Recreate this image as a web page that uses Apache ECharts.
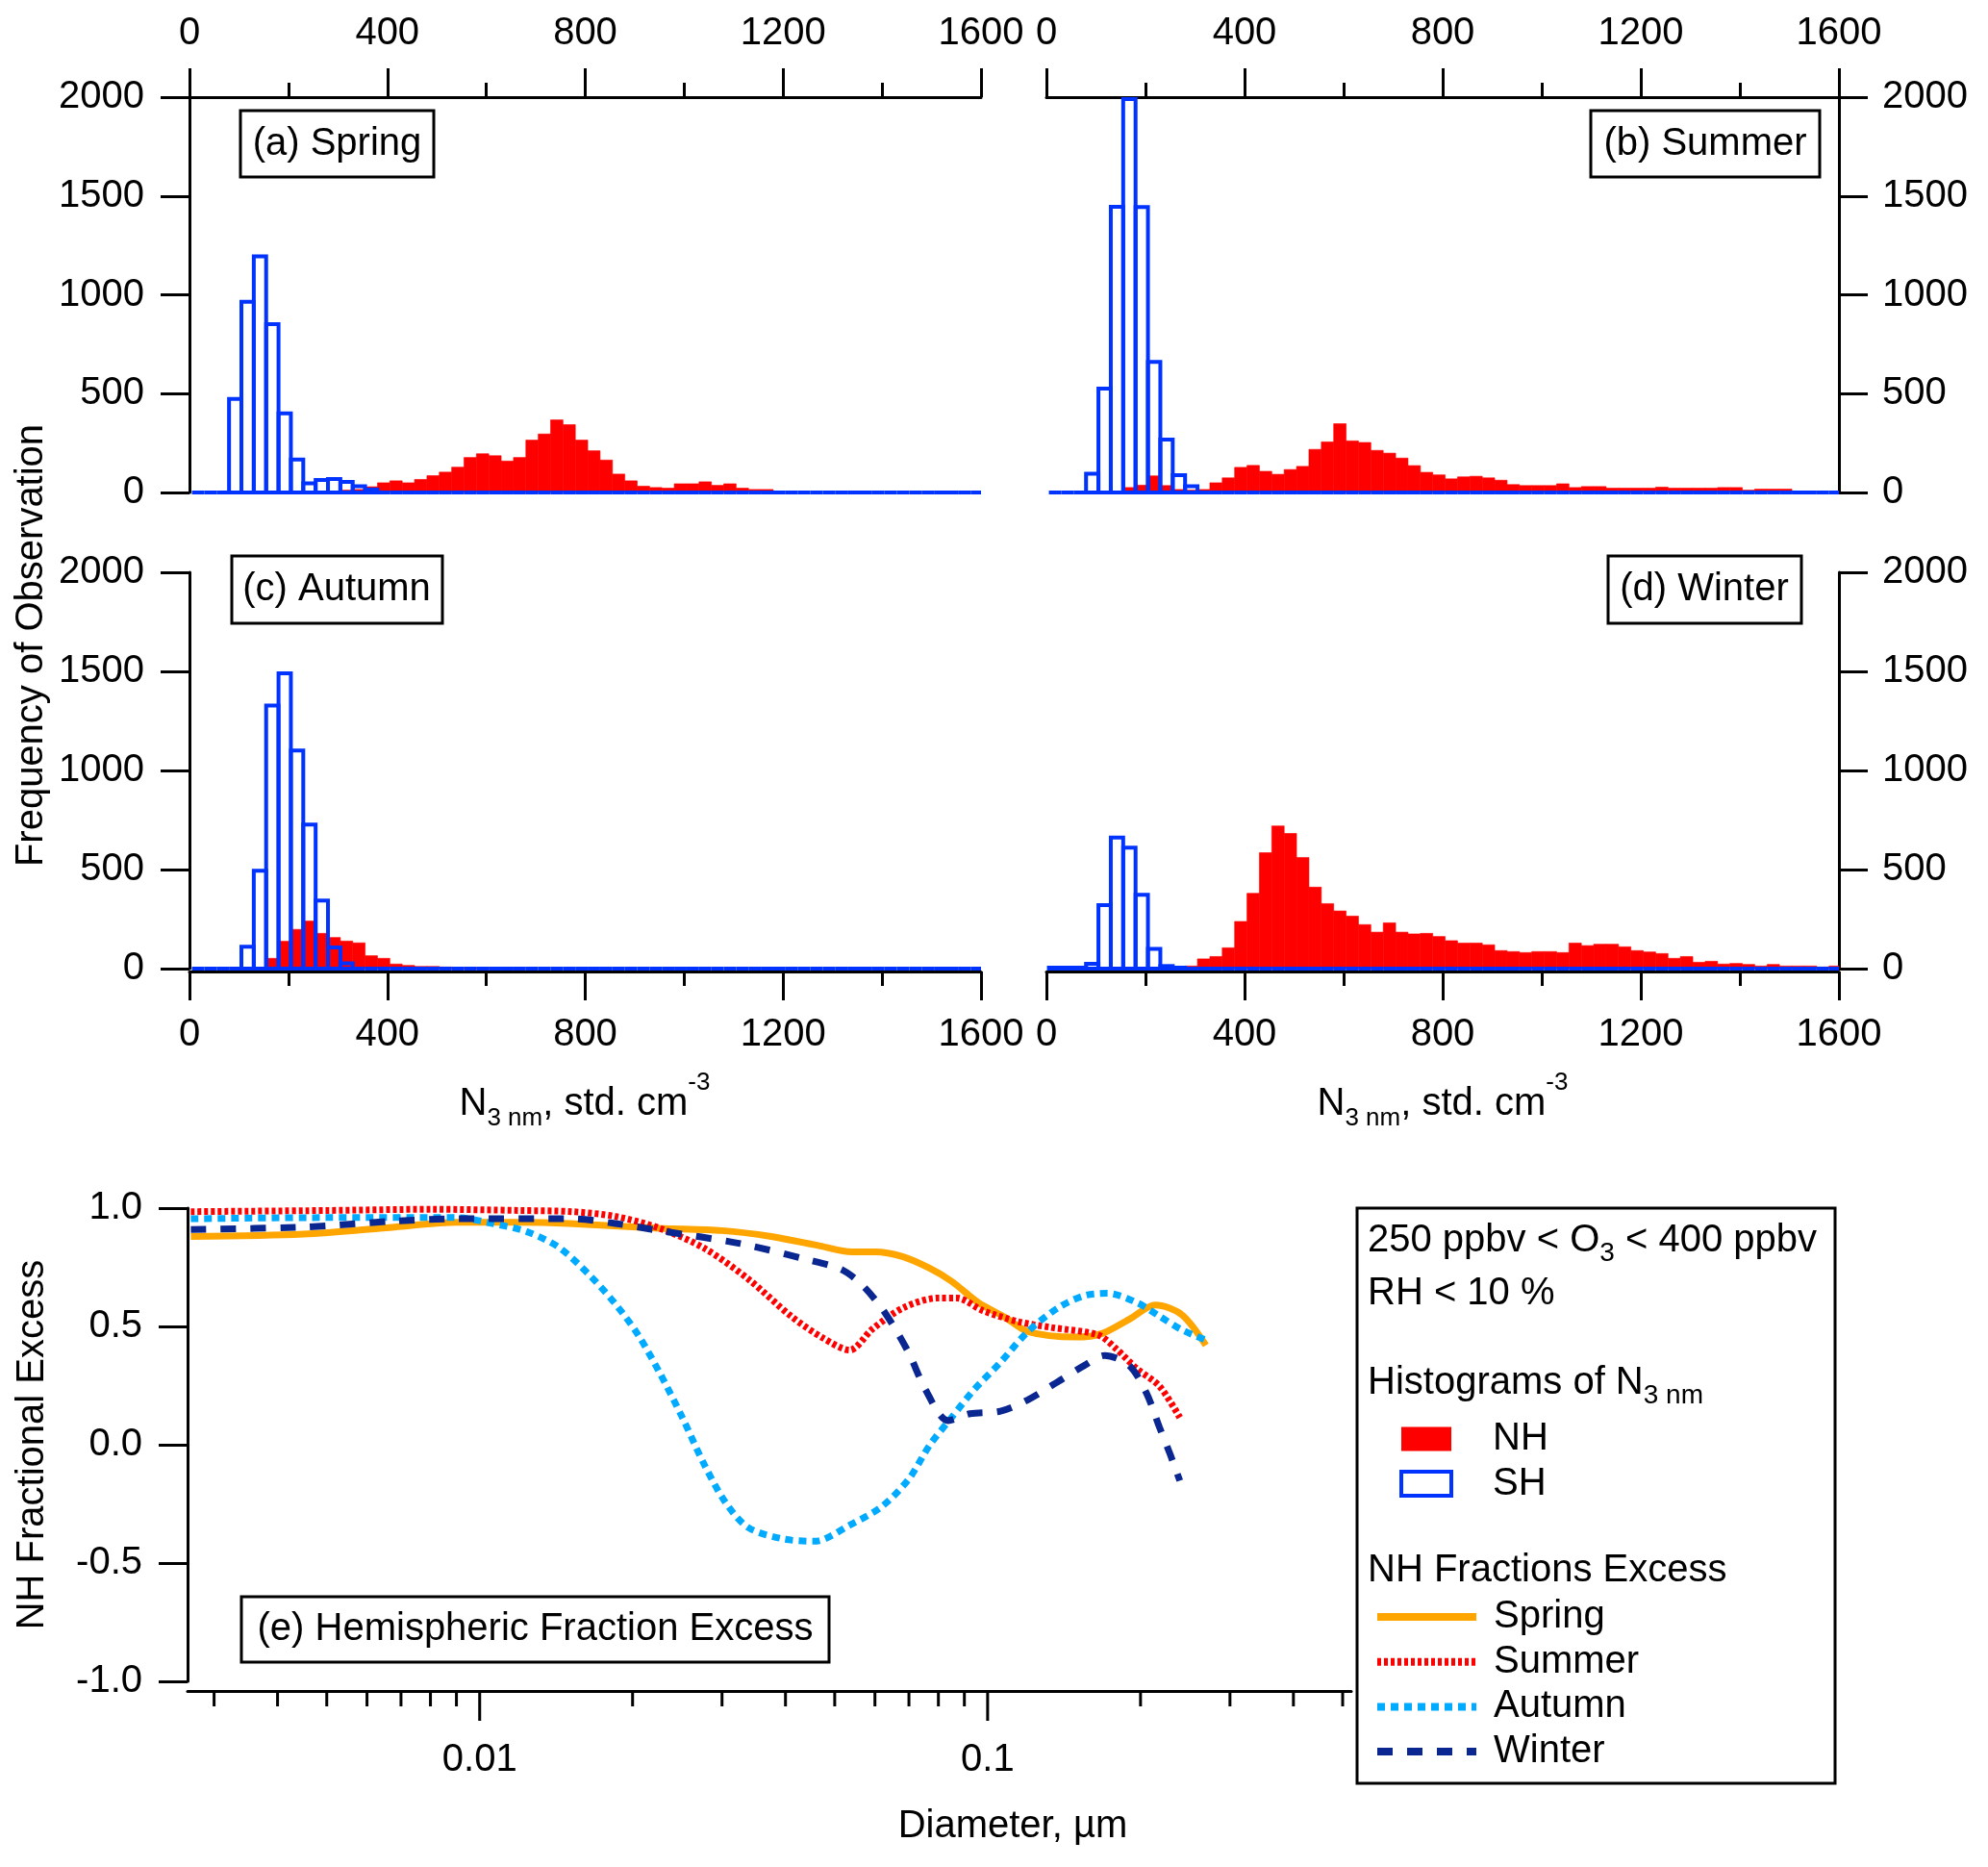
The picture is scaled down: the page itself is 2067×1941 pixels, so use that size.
<!DOCTYPE html>
<html>
<head>
<meta charset="utf-8">
<script src="https://cdn.jsdelivr.net/npm/echarts@6/dist/echarts.min.js"></script>
<style>
html,body{margin:0;padding:0;background:#ffffff;}
#chart{width:2067px;height:1941px;}
</style>
</head>
<body>
<div id="chart"></div>
<script>
// ---------------- data ----------------
const BIN_START = 5;      // left edge of first histogram bin (std. cm-3)
const BIN_WIDTH = 25;     // histogram bin width (std. cm-3)
const X_MAX = 1600;

// Histogram counts per bin (64 bins each), NH = filled red, SH = blue outline
const springNH = [0,0,0,0,0,0,0,0,0,0,0,0,12,15,29,49,59,49,66,85,103,128,177,196,186,159,177,265,296,367,343,265,211,164,93,59,32,25,22,44,44,54,36,44,22,15,15,0,0,0,0,0,0,0,0,0,0,0,0,0,0,0,0,0];
const springSH = [0,0,0,473,965,1195,852,400,167,46,63,68,54,32,15,0,0,0,0,0,0,0,0,0,0,0,0,0,0,0,0,0,0,0,0,0,0,0,0,0,0,0,0,0,0,0,0,0,0,0,0,0,0,0,0,0,0,0,0,0,0,0,0,0];
const summerNH = [0,0,0,0,0,0,25,37,84,35,15,12,15,49,74,127,137,107,92,116,132,218,256,348,261,253,213,199,174,136,102,89,69,79,82,74,62,40,35,35,35,44,25,30,30,22,22,22,22,27,22,22,22,22,25,25,12,17,17,17,5,5,0,0];
const summerSH = [0,0,0,95,526,1445,1990,1444,660,268,87,32,0,0,0,0,0,0,0,0,0,0,0,0,0,0,0,0,0,0,0,0,0,0,0,0,0,0,0,0,0,0,0,0,0,0,0,0,0,0,0,0,0,0,0,0,0,0,0,0,0,0,0,0];
const autumnNH = [0,0,0,0,0,0,52,138,198,240,178,157,139,130,65,52,23,16,11,11,8,5,5,4,4,3,0,0,0,0,0,0,0,0,0,0,0,0,0,0,0,0,0,0,0,0,0,0,0,0,0,0,0,0,0,0,0,0,0,0,0,0,0,0];
const autumnSH = [0,0,0,0,110,494,1328,1490,1101,727,343,107,27,0,0,0,0,0,0,0,0,0,0,0,0,0,0,0,0,0,0,0,0,0,0,0,0,0,0,0,0,0,0,0,0,0,0,0,0,0,0,0,0,0,0,0,0,0,0,0,0,0,0,0];
const winterNH = [0,0,0,0,0,0,0,0,0,0,8,13,49,61,105,238,380,585,720,682,561,411,328,291,265,222,184,231,184,175,178,162,141,129,129,120,91,86,81,86,86,81,129,116,123,123,110,91,84,76,52,61,32,37,23,26,21,13,21,13,13,13,8,13];
const winterSH = [5,5,5,24,320,661,610,372,100,13,5,0,0,0,0,0,0,0,0,0,0,0,0,0,0,0,0,0,0,0,0,0,0,0,0,0,0,0,0,0,0,0,0,0,0,0,0,0,0,0,0,0,0,0,0,0,0,0,0,0,0,0,0,0];

const histTicksX = [0, 400, 800, 1200, 1600];
const histTicksY = [0, 500, 1000, 1500, 2000];

// NH fractional excess vs diameter (um)
const diamSpring = [0.0027,0.0045,0.0068,0.009,0.012,0.015,0.0226,0.03,0.0375,0.0468,0.054,0.06,0.068,0.077,0.085,0.096,0.108,0.12,0.149,0.168,0.19,0.214,0.241,0.269];
const fracSpring = [0.88,0.89,0.92,0.94,0.94,0.935,0.915,0.905,0.88,0.84,0.815,0.815,0.795,0.745,0.69,0.60,0.54,0.478,0.455,0.47,0.53,0.59,0.55,0.42];
const diamSummer = [0.0027,0.005,0.008,0.012,0.0152,0.0185,0.0226,0.0277,0.0338,0.0412,0.0475,0.0535,0.0594,0.0684,0.080,0.087,0.098,0.115,0.133,0.165,0.179,0.197,0.218,0.239];
const fracSummer = [0.985,0.99,0.995,0.99,0.985,0.965,0.915,0.83,0.70,0.54,0.45,0.40,0.49,0.58,0.62,0.62,0.566,0.52,0.496,0.464,0.406,0.32,0.247,0.115];
const diamAutumn = [0.0027,0.005,0.009,0.0106,0.0124,0.0143,0.0164,0.0185,0.0205,0.0226,0.025,0.0277,0.0305,0.0338,0.0396,0.0456,0.0535,0.062,0.070,0.077,0.085,0.094,0.106,0.12,0.138,0.155,0.172,0.197,0.218,0.241,0.269];
const fracAutumn = [0.955,0.96,0.96,0.935,0.90,0.835,0.72,0.595,0.465,0.305,0.12,-0.085,-0.245,-0.35,-0.398,-0.408,-0.34,-0.26,-0.144,0.0,0.116,0.232,0.348,0.478,0.58,0.63,0.64,0.60,0.543,0.486,0.442];
const diamWinter = [0.0027,0.0045,0.0068,0.009,0.0152,0.0185,0.0226,0.0326,0.044,0.0516,0.0571,0.0631,0.0698,0.0755,0.0836,0.0923,0.106,0.12,0.138,0.155,0.170,0.19,0.2056,0.218,0.229,0.239];
const fracWinter = [0.91,0.92,0.945,0.955,0.955,0.935,0.905,0.85,0.783,0.74,0.667,0.551,0.392,0.232,0.102,0.131,0.142,0.19,0.268,0.335,0.377,0.335,0.217,0.073,-0.043,-0.152];

const diamMinorTicks = [0.003,0.004,0.005,0.006,0.007,0.008,0.009,0.02,0.03,0.04,0.05,0.06,0.07,0.08,0.09,0.2,0.3,0.4,0.5];
const diamMajorTicks = [0.01, 0.1];

// ---------------- styles ----------------
const FONT = '"Liberation Sans", Arial, Helvetica, sans-serif';
const RED = '#ff0000';
const BLUE = '#0033ff';
const ORANGE = '#ffa500';
const CYAN = '#00aaff';
const NAVY = '#0a2690';
const BLACK = '#000000';

function bins(counts) {
  return counts.map((c, k) => [BIN_START + BIN_WIDTH * k, BIN_START + BIN_WIDTH * (k + 1), c]);
}
function zip(a, b) { return a.map((v, i) => [v, b[i]]); }

function renderNH(params, api) {
  const c = api.value(2);
  if (!(c > 0)) return null;
  const x0 = api.value(0), x1 = Math.min(api.value(1), X_MAX);
  const a = api.coord([x0, c]), b = api.coord([x1, 0]);
  return {type: 'rect', shape: {x: a[0], y: a[1], width: b[0] - a[0], height: b[1] - a[1]},
          style: {fill: RED, stroke: RED, lineWidth: 0.6}};
}
function renderSH(params, api) {
  const c = api.value(2);
  const x0 = api.value(0), x1 = Math.min(api.value(1), X_MAX);
  const a = api.coord([x0, c]), b = api.coord([x1, 0]);
  return {type: 'rect', shape: {x: a[0], y: a[1], width: b[0] - a[0], height: b[1] - a[1]},
          style: {fill: 'none', stroke: BLUE, lineWidth: 4}};
}

const plainNum = function (v) { return String(v); };
const axisLineStyle = {color: BLACK, width: 3};
function histX(gi, pos, off) {
  return {type: 'value', gridIndex: gi, min: histTicksX[0], max: histTicksX[histTicksX.length - 1],
    interval: histTicksX[1] - histTicksX[0], position: pos, offset: off,
    axisLine: {show: true, onZero: false, lineStyle: axisLineStyle},
    axisTick: {show: true, inside: false, length: 30, lineStyle: axisLineStyle},
    minorTick: {show: true, splitNumber: 2, length: 15, lineStyle: axisLineStyle},
    axisLabel: {show: true, fontSize: 40, color: BLACK, fontFamily: FONT, margin: 46, formatter: plainNum},
    splitLine: {show: false}, minorSplitLine: {show: false}};
}
function histY(gi, pos) {
  return {type: 'value', gridIndex: gi, min: histTicksY[0], max: histTicksY[histTicksY.length - 1],
    interval: histTicksY[1] - histTicksY[0], position: pos,
    axisLine: {show: true, onZero: false, lineStyle: axisLineStyle},
    axisTick: {show: true, inside: false, length: 30, lineStyle: axisLineStyle},
    axisLabel: {show: true, fontSize: 40, color: BLACK, fontFamily: FONT, margin: pos === 'left' ? 47 : 45, formatter: plainNum},
    splitLine: {show: false}};
}

const histSets = [
  {nh: springNH, sh: springSH},
  {nh: summerNH, sh: summerSH},
  {nh: autumnNH, sh: autumnSH},
  {nh: winterNH, sh: winterSH}
];

const series = [];
histSets.forEach((s, i) => {
  series.push({type: 'custom', name: 'NH', xAxisIndex: i, yAxisIndex: i, clip: false, z: 2,
    itemStyle: {color: RED}, renderItem: renderNH, data: bins(s.nh), encode: {x: [0, 1], y: 2}});
  series.push({type: 'custom', name: 'SH', xAxisIndex: i, yAxisIndex: i, clip: false, z: 3,
    itemStyle: {color: '#ffffff', borderColor: BLUE, borderWidth: 4}, renderItem: renderSH, data: bins(s.sh), encode: {x: [0, 1], y: 2}});
});

const lineDefs = [
  {name: 'Spring', d: diamSpring, f: fracSpring, color: ORANGE, type: 'solid'},
  {name: 'Summer', d: diamSummer, f: fracSummer, color: RED, type: [4, 3]},
  {name: 'Autumn', d: diamAutumn, f: fracAutumn, color: CYAN, type: [8, 6]},
  {name: 'Winter', d: diamWinter, f: fracWinter, color: NAVY, type: [16, 15]}
];
lineDefs.forEach(l => {
  series.push({type: 'line', name: l.name, xAxisIndex: 4, yAxisIndex: 4, data: zip(l.d, l.f),
    symbol: 'none', smooth: 0.3, z: 3,
    lineStyle: {color: l.color, width: 7, type: l.type, cap: 'butt'},
    itemStyle: {color: l.color}});
});

// log-axis ticks (2..9 per decade) drawn through the log axis scale
const tickData = diamMinorTicks.map(v => [v, -1, 0]).concat(diamMajorTicks.map(v => [v, -1, 1]));
series.push({type: 'custom', xAxisIndex: 4, yAxisIndex: 4, clip: false, silent: true, z: 1,
  data: tickData, encode: {x: 0, y: 1},
  renderItem: function (params, api) {
    const p = api.coord([api.value(0), api.value(1)]);
    const len = api.value(2) ? 31 : 16;
    const y0 = p[1] + 10;
    return {type: 'line', shape: {x1: p[0], y1: y0, x2: p[0], y2: y0 + len},
            style: {stroke: BLACK, lineWidth: 3}};
  }});

function txt(x, y, text, extra) {
  return {type: 'text', x: x, y: y, z: 100,
    style: Object.assign({text: text, fill: BLACK, fontSize: 40, fontFamily: FONT, align: 'center', verticalAlign: 'middle'},
      extra || {})};
}
function box(x, y, w, h, fill) {
  return {type: 'rect', z: 99, shape: {x: x, y: y, width: w, height: h},
    style: {fill: fill, stroke: BLACK, lineWidth: 3}};
}
const nameRich = {
  n: {fontSize: 40, fontFamily: FONT, fill: BLACK},
  sub: {fontSize: 26, fontFamily: FONT, fill: BLACK, padding: [30, 0, 0, 0]},
  sup: {fontSize: 26, fontFamily: FONT, fill: BLACK, padding: [0, 0, 44, 0]}
};
const legRich = {
  n: {fontSize: 40, fontFamily: FONT, fill: BLACK},
  sub: {fontSize: 28, fontFamily: FONT, fill: BLACK, padding: [27, 0, 0, 0]}
};

const graphics = [
  box(250, 115, 201, 69, '#ffffff'), txt(350.5, 150, '(a) Spring'),
  box(1654, 115, 238, 69, '#ffffff'), txt(1773, 150, '(b) Summer'),
  box(241, 578, 219, 70, '#ffffff'), txt(350, 613, '(c) Autumn'),
  box(1672, 578, 201, 70, '#ffffff'), txt(1772, 613, '(d) Winter'),
  box(251, 1660, 611, 68, '#ffffff'), txt(556.5, 1694, '(e) Hemispheric Fraction Excess'),
  Object.assign(txt(33, 671, 'Frequency of Observation'), {rotation: Math.PI / 2}),
  Object.assign(txt(34, 1502, 'NH Fractional Excess'), {rotation: Math.PI / 2}),
  txt(608, 1148, '{n|N}{sub|3 nm}{n|, std. cm}{sup|-3}', {rich: nameRich}),
  txt(1500, 1148, '{n|N}{sub|3 nm}{n|, std. cm}{sup|-3}', {rich: nameRich}),
  txt(1053, 1899, 'Diameter, µm'),
  box(1411, 1256, 497, 598, 'none'),
  txt(1422, 1290, '{n|250 ppbv < O}{sub|3}{n| < 400 ppbv}', {rich: legRich, align: 'left'}),
  txt(1422, 1345, 'RH < 10 %', {align: 'left'}),
  txt(1422, 1438, '{n|Histograms of N}{sub|3 nm}', {rich: legRich, align: 'left'}),
  txt(1422, 1633, 'NH Fractions Excess', {align: 'left'})
];

const option = {
  animation: false,
  backgroundColor: '#ffffff',
  textStyle: {fontFamily: FONT, color: BLACK},
  grid: [
    {left: 197, top: 101, width: 823, height: 411},
    {left: 1088, top: 101, width: 824, height: 411},
    {left: 197, top: 595, width: 823, height: 412},
    {left: 1088, top: 595, width: 824, height: 412},
    {left: 195, top: 1256, width: 1210, height: 492}
  ],
  xAxis: [
    histX(0, 'top', 0),
    histX(1, 'top', 0),
    histX(2, 'bottom', 3),
    histX(3, 'bottom', 3),
    {type: 'log', gridIndex: 4, logBase: 10, min: 0.00266, max: 0.52, splitNumber: 3, position: 'bottom', offset: 10,
      axisLine: {show: true, onZero: false, lineStyle: axisLineStyle},
      axisTick: {show: false},
      axisLabel: {show: true, fontSize: 40, color: BLACK, fontFamily: FONT, margin: 52,
        formatter: function (v) {
          const l = Math.log10(v);
          if (Math.abs(l - Math.round(l)) > 1e-6) return '';
          return String(+Math.pow(10, Math.round(l)).toPrecision(1));
        }},
      splitLine: {show: false}}
  ],
  yAxis: [
    histY(0, 'left'),
    histY(1, 'right'),
    histY(2, 'left'),
    histY(3, 'right'),
    {type: 'value', gridIndex: 4, min: -1, max: 1, interval: 0.5, position: 'left',
      axisLine: {show: true, onZero: false, lineStyle: axisLineStyle},
      axisTick: {show: true, length: 30, lineStyle: axisLineStyle},
      axisLabel: {show: true, fontSize: 40, color: BLACK, fontFamily: FONT, margin: 47,
        formatter: function (v) { return v.toFixed(1); }},
      splitLine: {show: false}}
  ],
  legend: [
    {orient: 'vertical', left: 1455, top: 1476, itemWidth: 52, itemHeight: 25, itemGap: 6.5,
      selectedMode: false, padding: 0,
      textStyle: {fontSize: 40, fontFamily: FONT, color: BLACK, lineHeight: 40, padding: [0, 0, 0, 38]},
      data: [
        {name: 'NH', icon: 'rect', itemStyle: {color: RED, borderWidth: 0}},
        {name: 'SH', icon: 'rect', itemStyle: {color: '#ffffff', borderColor: BLUE, borderWidth: 4}}
      ]},
    {orient: 'vertical', left: 1428, top: 1661, itemWidth: 103, itemHeight: 14, itemGap: 6.7,
      selectedMode: false, padding: 0,
      lineStyle: {width: 8},
      itemStyle: {opacity: 0},
      textStyle: {fontSize: 40, fontFamily: FONT, color: BLACK, lineHeight: 40, padding: [0, 0, 0, 13]},
      data: ['Spring', 'Summer', 'Autumn', 'Winter']}
  ],
  graphic: {elements: graphics},
  series: series
};

const chart = echarts.init(document.getElementById('chart'), null, {renderer: 'canvas'});
chart.setOption(option);
</script>
</body>
</html>
